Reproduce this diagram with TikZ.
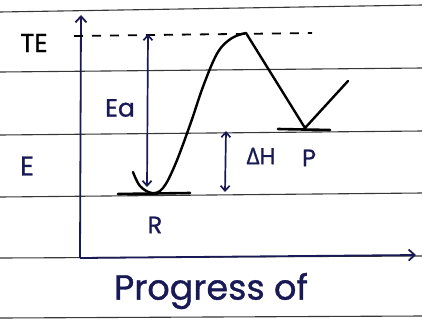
\documentclass[tikz,border=0pt]{standalone}
\usepackage{fontspec}
\setmainfont{Poppins}[FakeBold=1]
\newfontfamily\grk{Open Sans}[FakeBold=1]
\usetikzlibrary{arrows.meta}
\definecolor{ink}{RGB}{25,25,85}
\definecolor{rule}{RGB}{55,55,55}
\tikzset{
  ruleline/.style={draw=rule, line width=1.1pt},
  axisline/.style={draw=ink, line width=1.8pt},
  curveline/.style={draw=black, line width=2.4pt, line cap=round, line join=round},
  levelline/.style={draw=black, line width=2.6pt, line cap=round},
  dim/.style={draw=ink, line width=1.7pt, {Straight Barb[length=5pt,width=9pt]}-{Straight Barb[length=5pt,width=9pt]}},
  lbl/.style={inner sep=0pt, text=ink},
}
\begin{document}
\begin{tikzpicture}[x=1pt,y=-1pt]
\useasboundingbox (0,0) rectangle (422,322);
\fill[white] (0,0) rectangle (422,322);
% notebook rules
\draw[ruleline] (0,12) -- (422,5);
\draw[ruleline] (0,72) -- (422,68);
\draw[ruleline] (0,135) -- (422,131);
\draw[ruleline] (0,197) -- (422,193);
\draw[ruleline] (0,258) -- (422,256);
\draw[ruleline] (0,318) -- (422,316);
% axes
\coordinate (origin) at (80,258);
\coordinate (ytop) at (81,15);
\coordinate (xend) at (416,255);
\draw[axisline, -{Straight Barb[length=6pt,width=11pt]}] (origin) -- (ytop);
\draw[axisline, -{Straight Barb[length=6pt,width=11pt]}] (origin) -- (xend);
% TE dashed line
\coordinate (dashA) at (74,36);
\coordinate (dashB) at (312,33);
\draw[draw=black, line width=1.8pt, dash pattern=on 9pt off 9pt] (dashA) -- (dashB);
% energy levels
\coordinate (rA) at (118,194);
\coordinate (rB) at (190,193);
\draw[levelline] (rA) -- (rB);
\coordinate (pA) at (278,129);
\coordinate (pB) at (330,130);
\draw[levelline] (pA) -- (pB);
% curve
\draw[curveline] plot[smooth, tension=0.6] coordinates {(133,172) (140,186) (152,193) (163,188) (175,165) (190,125) (204,84) (218,52) (232,38) (246,33)}
  -- (305,128) -- (348,81);
% Ea arrow
\coordinate (eaT) at (148,34);
\coordinate (eaB) at (147,187);
\draw[dim] (eaT) -- (eaB);
% Delta H arrow
\coordinate (dhT) at (226,131);
\coordinate (dhB) at (225,192);
\draw[dim] (dhT) -- (dhB);
% labels
\node[lbl, text=black, font=\fontsize{26}{26}\selectfont] (te) at (34,43) {TE};
\node[lbl, font=\fontsize{25}{25}\selectfont] (ea) at (120,108) {Ea};
\node[lbl, font=\fontsize{27}{27}\selectfont] (e) at (27,166) {E};
\node[lbl, font=\fontsize{23}{23}\selectfont] (dh) at (261,156) {{\grk Δ}H};
\node[lbl, font=\fontsize{24}{24}\selectfont] (p) at (309,158) {P};
\node[lbl, font=\fontsize{24}{24}\selectfont] (r) at (155,225) {R};
\node[lbl, font=\fontsize{35}{35}\selectfont] (prog) at (211,291) {Progress of};
\end{tikzpicture}
\end{document}
